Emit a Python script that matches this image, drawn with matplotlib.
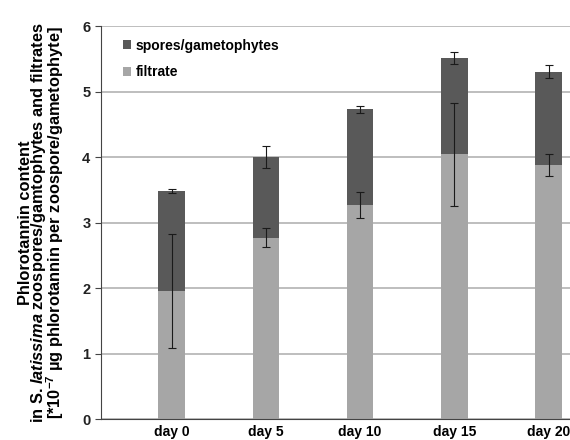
import numpy as np
import matplotlib
matplotlib.use('Agg')
import matplotlib.pyplot as plt

plt.rcParams['font.family'] = ['Liberation Sans', 'DejaVu Sans']
plt.rcParams['mathtext.fontset'] = 'custom'
plt.rcParams['mathtext.rm'] = 'Liberation Sans:bold'
plt.rcParams['mathtext.it'] = 'Liberation Sans:bold:italic'
plt.rcParams['mathtext.bf'] = 'Liberation Sans:bold'

# dati
giorni = ['day 0', 'day 5', 'day 10', 'day 15', 'day 20']
filtrato = [1.95, 2.77, 3.27, 4.04, 3.88]
err_filtrato = [0.87, 0.15, 0.20, 0.79, 0.17]
totale = [3.48, 4.00, 4.73, 5.51, 5.30]
err_totale = [0.03, 0.17, 0.05, 0.09, 0.10]

spore = np.array(totale) - np.array(filtrato)
x = np.arange(len(giorni))

fig = plt.figure(figsize=(5.7, 4.4), dpi=100)
ax = fig.add_axes([0.177, 0.0477, 0.823, 0.893])

ax.bar(x, filtrato, width=0.28, color='#a6a6a6', label='filtrate', zorder=2)
ax.bar(x, spore, width=0.28, bottom=filtrato, color='#595959',
       label='spores/gametophytes', zorder=2)
ax.errorbar(x, filtrato, yerr=err_filtrato, fmt='none', ecolor='#1a1a1a',
            elinewidth=0.8, capsize=3, capthick=0.8, zorder=3)
ax.errorbar(x, totale, yerr=err_totale, fmt='none', ecolor='#1a1a1a',
            elinewidth=0.8, capsize=3, capthick=0.8, zorder=3)

ax.set_ylim(0, 6)
ax.set_xlim(-0.75, 4.226)
ax.set_yticks(range(7))
ax.set_xticks(x)
ax.set_xticklabels(giorni, fontweight='bold', fontsize=10)
for t in ax.get_yticklabels():
    t.set_fontweight('bold')
    t.set_fontsize(10.5)
    t.set_color('#222222')
ax.tick_params(axis='x', length=0, pad=4)
ax.tick_params(axis='y', length=4, color='#444444')
ax.grid(axis='y', color='#b3b3b3', linewidth=1.2, zorder=0)
ax.spines['top'].set_visible(False)
ax.spines['right'].set_visible(False)
ax.spines['left'].set_color('#444444')
ax.spines['bottom'].set_color('#444444')

ax.set_ylabel('Phlorotannin content\n'
              r'in S. $\it{latissima}$ zoospores/gamtophytes and filtrates' '\n'
              r'[*10$^{\mathregular{-7}}$ µg phlorotannin per zoospore/gametophyte]',
              fontweight='bold', fontsize=11.8, linespacing=0.75)
ax.yaxis.set_label_coords(-0.075, 0.5)

h, l = ax.get_legend_handles_labels()
leg = ax.legend(h[::-1], l[::-1], loc='upper left', bbox_to_anchor=(0.02, 1.0),
                frameon=False, handlelength=0.6, handleheight=0.6,
                handletextpad=0.3, labelspacing=0.9, prop={'weight': 'bold', 'size': 10})

plt.savefig('out.png', dpi=100)
